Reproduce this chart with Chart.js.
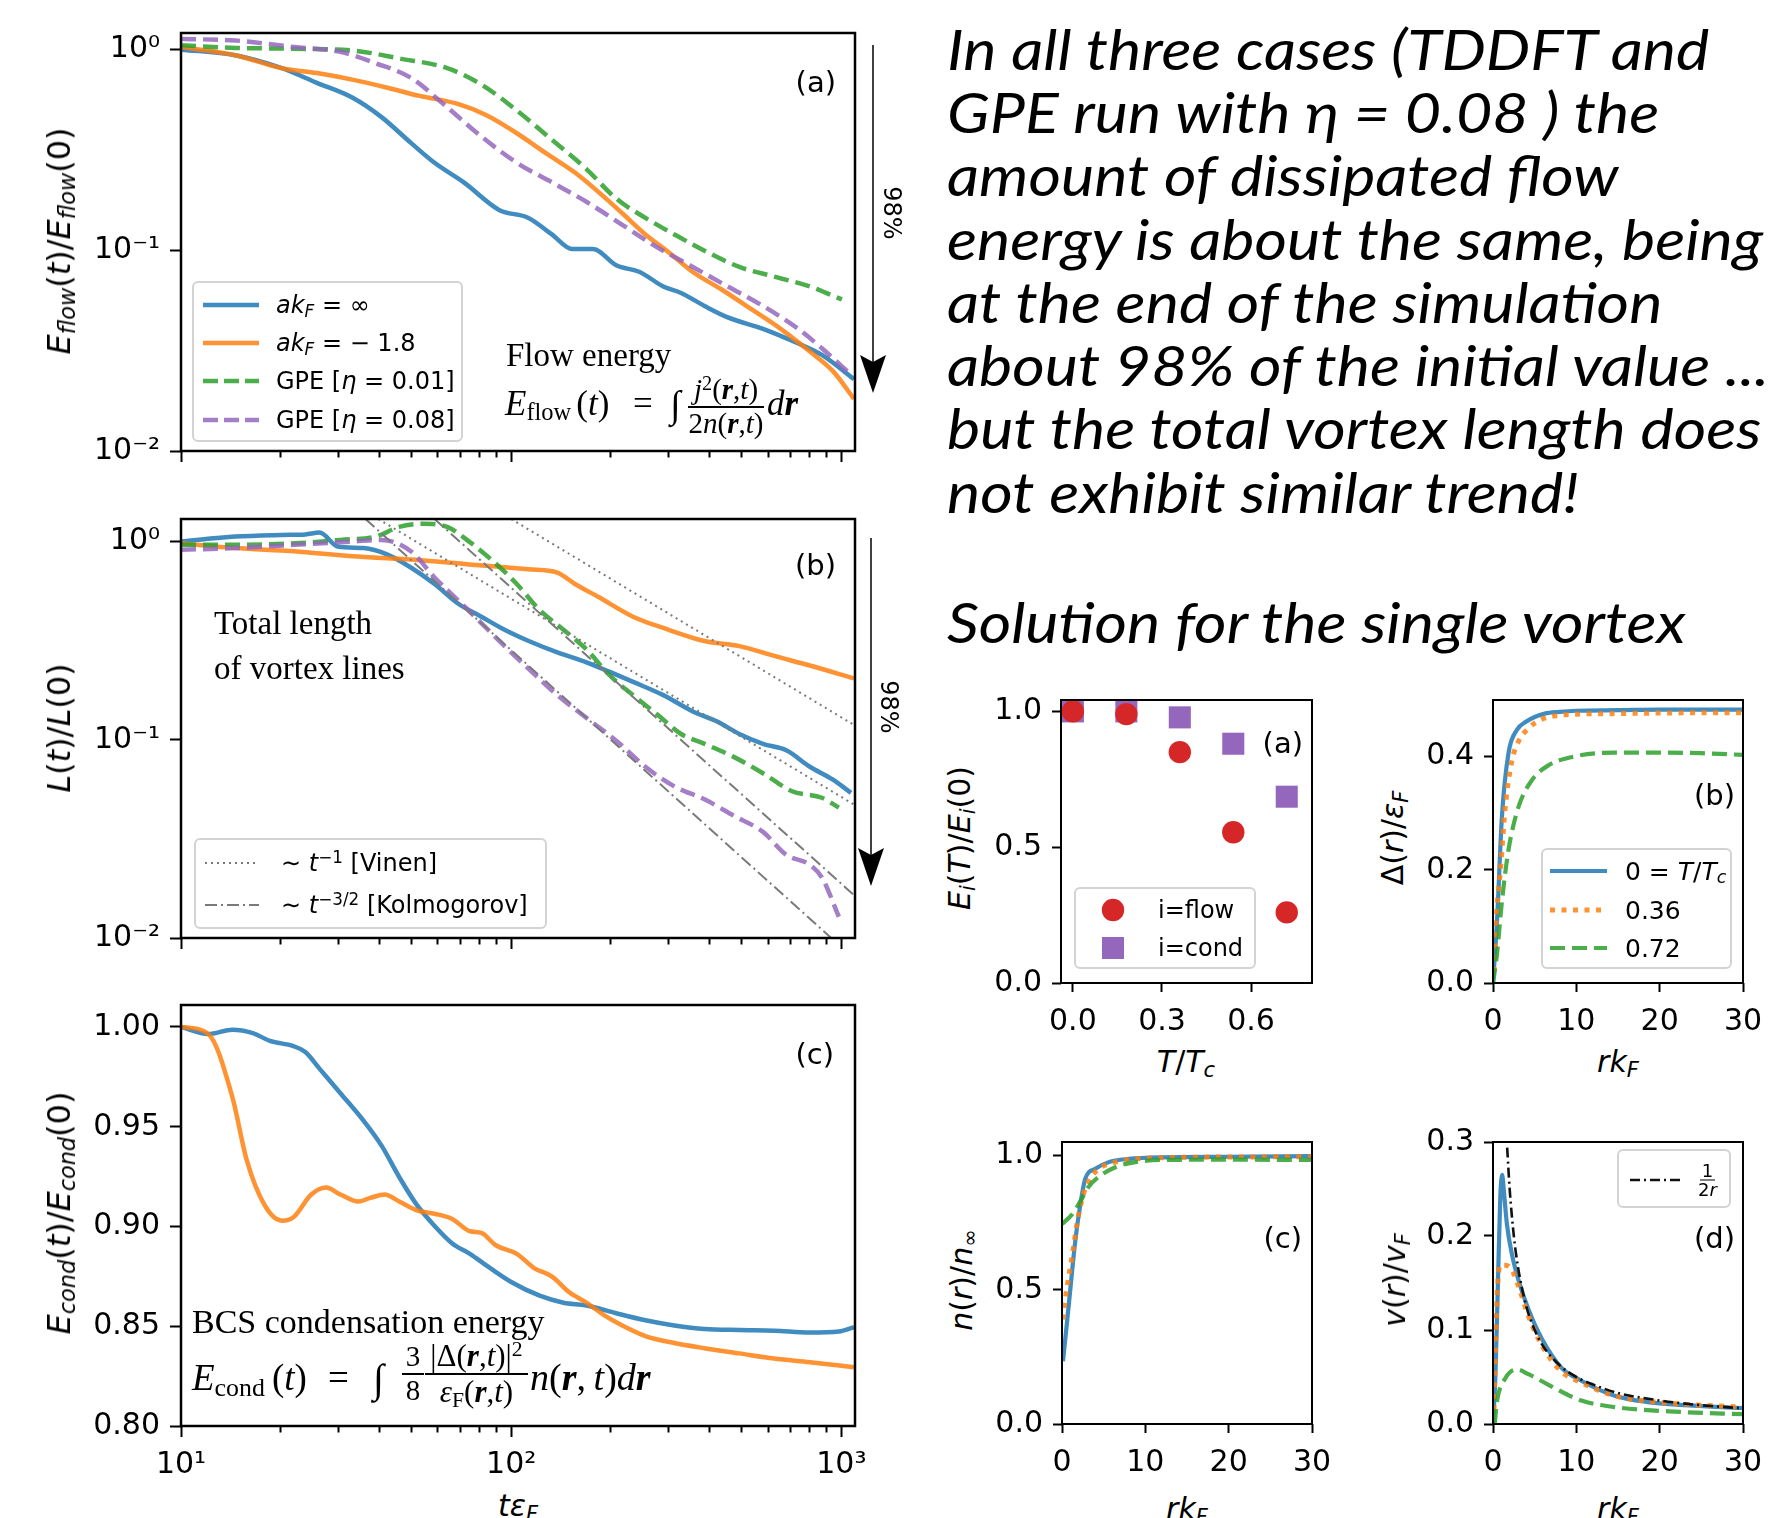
<!DOCTYPE html>
<html><head><meta charset="utf-8">
<script src="https://cdn.jsdelivr.net/npm/chart.js@4.4.1/dist/chart.umd.min.js"></script>
<style>
html,body{margin:0;padding:0;background:#fff;}
body{position:relative;width:1770px;height:1518px;overflow:hidden;}
canvas{position:absolute;}
.abs{position:absolute;white-space:nowrap;color:#000;}
.txt{font-family:'Lato';font-style:italic;font-size:56px;line-height:63.3px;transform:scaleX(1.12);transform-origin:0 0;}
.dj{font-family:'DejaVu Sans';line-height:1;}
.ser{font-family:'Liberation Serif';line-height:1;}
.rot{transform:translate(-50%,-50%) rotate(-90deg);}
.rotcw{transform:translate(-50%,-50%) rotate(90deg);}
sub{font-size:0.7em;vertical-align:-0.22em;line-height:0;}
sup{font-size:0.7em;vertical-align:0.45em;line-height:0;}
.legend{position:absolute;box-sizing:border-box;border:2px solid #d3d3d3;border-radius:6px;background:rgba(255,255,255,0.85);}
.row{position:absolute;white-space:nowrap;font-family:'DejaVu Sans';line-height:1;transform:translateY(-50%);}
.samp{position:absolute;}
</style>
</head><body>
<script>
// ---------------- DATA ----------------
// Panel (a): flow energy vs t*eps_F
const tA_inf = [10, 14.6, 20.2, 25.8, 33.0, 40.5, 49.8, 58.6, 71.9, 91.9, 112.8, 132.8, 153, 177, 208, 245, 289, 327, 385, 453, 579, 741, 873, 1092];
const eA_inf = [1.0, 0.938, 0.808, 0.683, 0.577, 0.461, 0.342, 0.273, 0.218, 0.159, 0.145, 0.120, 0.1015, 0.1015, 0.0842, 0.078, 0.066, 0.0613, 0.0528, 0.0463, 0.0406, 0.0343, 0.0301, 0.0228];
const tA_m18 = [10, 14.6, 20.2, 25.8, 33, 42.2, 52.8, 68.9, 84.5, 104, 127, 156, 184, 217, 255, 300, 355, 435, 534, 655, 803, 943, 1092];
const eA_m18 = [1.03, 0.938, 0.808, 0.764, 0.709, 0.646, 0.588, 0.536, 0.470, 0.383, 0.306, 0.244, 0.195, 0.153, 0.120, 0.0978, 0.078, 0.0636, 0.0509, 0.0406, 0.0313, 0.025, 0.0182];
const tA_g01 = [10, 14.6, 22, 33, 45.8, 64, 81.2, 104, 133, 169, 208, 255, 312, 385, 491, 626, 803, 1004];
const eA_g01 = [1.05, 1.02, 1.01, 0.99, 0.904, 0.808, 0.670, 0.497, 0.355, 0.254, 0.181, 0.145, 0.120, 0.0996, 0.0826, 0.074, 0.066, 0.0569];
const tA_g08 = [10, 14.6, 22, 30.4, 38.9, 49.8, 64, 81.2, 104, 133, 169, 217, 277, 355, 453, 579, 741, 873, 1070];
const eA_g08 = [1.13, 1.11, 1.03, 0.975, 0.855, 0.722, 0.516, 0.369, 0.273, 0.218, 0.1745, 0.134, 0.1035, 0.0826, 0.066, 0.0528, 0.0406, 0.0325, 0.024];

// Panel (b): total vortex length
const tB_inf = [10, 14.6, 20.2, 23.8, 26.3, 29.8, 35.8, 42.2, 49.8, 58.6, 69, 81.2, 95.5, 113, 138, 169, 199, 234, 289, 355, 419, 491, 579, 681, 803, 943, 1070];
const lB_inf = [1.0, 1.06, 1.08, 1.087, 1.11, 0.945, 0.927, 0.859, 0.738, 0.611, 0.487, 0.418, 0.359, 0.315, 0.276, 0.246, 0.22, 0.196, 0.168, 0.139, 0.124, 0.107, 0.0954, 0.0885, 0.0731, 0.0629, 0.054];
const tB_m18 = [10, 14.6, 22, 33, 49.8, 74.6, 113, 138, 156, 184, 234, 300, 385, 491, 626, 803, 1092];
const lB_m18 = [0.98, 0.927, 0.893, 0.843, 0.812, 0.767, 0.725, 0.698, 0.611, 0.525, 0.418, 0.359, 0.315, 0.297, 0.265, 0.237, 0.204];
const tB_g01 = [10, 14.6, 22, 30.4, 38.9, 45.8, 54.2, 64, 74.6, 88.1, 104, 122, 144, 169, 199, 234, 277, 327, 385, 472, 579, 709, 873, 983];
const lB_g01 = [0.963, 0.963, 0.98, 1.02, 1.06, 1.186, 1.23, 1.186, 1.0, 0.797, 0.611, 0.451, 0.359, 0.286, 0.211, 0.168, 0.134, 0.107, 0.0954, 0.082, 0.0678, 0.055, 0.051, 0.0455];
const tB_g08 = [10, 14.6, 22, 33, 40.5, 49.8, 58.6, 69, 81.2, 95.5, 113, 138, 169, 208, 255, 312, 385, 472, 579, 681, 803, 873, 983];
const lB_g08 = [0.91, 0.927, 0.963, 1.0, 1.02, 0.892, 0.659, 0.506, 0.388, 0.297, 0.228, 0.168, 0.129, 0.099, 0.0731, 0.0582, 0.0501, 0.0414, 0.0343, 0.0263, 0.0234, 0.0202, 0.0128];
const vinen1_t = [100, 1100], vinen1_v = [1.3, 0.118];
const vinen2_t = [39.6, 1100], vinen2_v = [1.3, 0.0468];
const kolm1_t = [58.6, 1100], kolm1_v = [1.3, 0.0163];
const kolm2_t = [36.2, 1100], kolm2_v = [1.3, 0.0078];

// Panel (c): condensation energy
const tC_inf = [10, 12.1, 14.3, 16.5, 18.6, 21.9, 23.8, 26.3, 30.4, 35.8, 40.5, 45.8, 51.8, 58.6, 66.3, 75, 84.7, 99.7, 122, 144, 169, 208, 255, 312, 385, 491, 626, 803, 983, 1092];
const cC_inf = [1.0, 0.9965, 0.9986, 0.9969, 0.993, 0.9904, 0.9874, 0.979, 0.9668, 0.9528, 0.9405, 0.9248, 0.9108, 0.9003, 0.8915, 0.8863, 0.8801, 0.8723, 0.8653, 0.8618, 0.8604, 0.8565, 0.853, 0.8504, 0.8486, 0.8481, 0.8478, 0.8469, 0.8474, 0.8495];
const tC_m18 = [10, 12.1, 14.3, 15.8, 17.9, 20.2, 21.9, 24.8, 27.5, 30.4, 34.4, 37.4, 41.4, 45.8, 51.8, 58.6, 66.3, 75, 81.2, 89.8, 104, 117, 133, 150, 169, 191, 217, 255, 312, 385, 491, 626, 803, 1092];
const cC_m18 = [1.0, 0.9965, 0.965, 0.9335, 0.9108, 0.9029, 0.9046, 0.916, 0.9195, 0.916, 0.9125, 0.9143, 0.916, 0.9125, 0.9081, 0.9064, 0.9038, 0.8976, 0.8968, 0.8906, 0.8863, 0.8793, 0.8749, 0.867, 0.8618, 0.8556, 0.8504, 0.8451, 0.8416, 0.839, 0.8364, 0.8338, 0.832, 0.8294];

// Small (a): energies vs temperature
const T_over_Tc = [0.0, 0.18, 0.36, 0.54, 0.72];
const E_flow_T = [1.0, 0.99, 0.85, 0.555, 0.26];
const E_cond_T = [1.0, 1.0, 0.978, 0.881, 0.686];
// Small (b): gap profile
const rB_T0 = [0, 0.48, 1.07, 1.87, 2.86, 4.0, 5.0, 6.2, 8, 10, 15, 20, 30];
const gB_T0 = [0, 0.109, 0.294, 0.407, 0.447, 0.462, 0.47, 0.476, 0.479, 0.481, 0.482, 0.483, 0.483];
const rB_T36 = [0.1, 0.48, 0.87, 1.47, 2.26, 3.06, 4.25, 5.84, 7.4, 10, 15, 20, 30];
const gB_T36 = [0.02, 0.132, 0.196, 0.311, 0.392, 0.427, 0.45, 0.466, 0.472, 0.475, 0.476, 0.477, 0.4775];
const rB_T72 = [0, 0.48, 1.07, 1.87, 3.06, 4.65, 6.6, 10, 14.6, 20, 25, 30];
const gB_T72 = [0, 0.051, 0.144, 0.236, 0.311, 0.358, 0.384, 0.401, 0.407, 0.407, 0.406, 0.403];
// Small (c): density profile
const rC_T0 = [0.12, 0.8, 1.6, 2.2, 2.8, 4, 5.6, 8, 12, 20, 30];
const nC_T0 = [0.234, 0.44, 0.684, 0.818, 0.915, 0.951, 0.976, 0.988, 0.994, 0.996, 0.998];
const rC_T36 = [0.1, 0.4, 1.2, 2, 2.8, 4, 6.4, 10, 20, 30];
const nC_T36 = [0.39, 0.465, 0.623, 0.781, 0.878, 0.94, 0.976, 0.99, 0.995, 0.996];
const rC_T72 = [0, 1.2, 2.2, 3.2, 4.4, 6.4, 8.8, 12, 20, 30];
const nC_T72 = [0.745, 0.781, 0.83, 0.884, 0.921, 0.957, 0.976, 0.984, 0.985, 0.984];
// Small (d): velocity profile
const rD_T0 = [0, 0.28, 0.6, 0.87, 1.1, 1.31, 1.67, 2.26, 3.06, 4.25, 5.84, 8.2, 10.6, 14.6, 18.55, 24, 30];
const vD_T0 = [0, 0.049, 0.153, 0.24, 0.265, 0.247, 0.2125, 0.181, 0.153, 0.122, 0.091, 0.06, 0.046, 0.030, 0.0233, 0.0195, 0.017];
const rD_T36 = [0.12, 0.36, 0.6, 0.87, 1.47, 2.26, 3.06, 4.25, 5.84, 8.2, 10.6, 14.6, 20, 30];
const vD_T36 = [0.0146, 0.101, 0.153, 0.169, 0.169, 0.164, 0.1465, 0.115, 0.084, 0.056, 0.044, 0.030, 0.023, 0.018];
const rD_T72 = [0.2, 0.5, 1.5, 2.86, 4.25, 6.6, 10.6, 14.6, 22.5, 30];
const vD_T72 = [0, 0.025, 0.049, 0.058, 0.053, 0.042, 0.025, 0.018, 0.0128, 0.0104];
const rD_ref = [1.7, 2.0, 2.5, 3.0, 4.0, 5.0, 6.0, 8.0, 10, 12, 15, 20, 25, 30];
const vD_ref = [0.294, 0.25, 0.2, 0.167, 0.125, 0.1, 0.083, 0.0625, 0.05, 0.042, 0.033, 0.025, 0.02, 0.0167];

// Ticks
const X_TICKS_LOG = [10,20,30,40,50,60,70,80,90,100,200,300,400,500,600,700,800,900,1000];
const X_LOG_LABELS = {10:'10¹', 100:'10²', 1000:'10³'};
const Y_TICKS_LOG = [0.01, 0.1, 1];
const Y_LOG_LABELS = {0.01:'10⁻²', 0.1:'10⁻¹', 1:'10⁰'};
const Y_TICKS_C = [0.80, 0.85, 0.90, 0.95, 1.00];
const X_TICKS_T = [0.0, 0.3, 0.6];
const Y_TICKS_HALF = [0.0, 0.5, 1.0];
const Y_TICKS_GAP = [0.0, 0.2, 0.4];
const Y_TICKS_V = [0.0, 0.1, 0.2, 0.3];
const X_TICKS_R = [0, 10, 20, 30];

// ---------------- STYLE ----------------
const BLUE='rgba(31,119,180,0.85)', ORANGE='rgba(255,127,14,0.85)', GREEN='rgba(44,160,44,0.85)', PURPLE='rgba(148,103,189,0.85)';
const RED='#d62728', PURP='#9467bd', GRAY='#7a7a7a';

const framePlugin = {
  id: 'frame',
  afterDraw(chart, args, opts) {
    const {ctx, chartArea: a} = chart;
    ctx.save(); ctx.strokeStyle = '#000'; ctx.lineWidth = opts.width || 2;
    ctx.strokeRect(a.left, a.top, a.right - a.left, a.bottom - a.top);
    ctx.restore();
  }
};

function mkCanvas(rect, m) {
  const c = document.createElement('canvas');
  const W = rect.w + m.l + m.r, H = rect.h + m.t + m.b;
  c.width = W; c.height = H;
  c.style.left = (rect.x - m.l) + 'px'; c.style.top = (rect.y - m.t) + 'px';
  c.style.width = W + 'px'; c.style.height = H + 'px';
  document.body.appendChild(c);
  return c;
}
function pts(xs, ys) { return xs.map((x, i) => ({x, y: ys[i]})); }
function lineDS(label, xs, ys, color, width, dash, order) {
  return { label, data: pts(xs, ys), borderColor: color, borderWidth: width, borderDash: dash || [],
    pointRadius: 0, fill: false, cubicInterpolationMode: 'monotone', borderCapStyle: 'butt',
    borderJoinStyle: 'round', order: order || 0 };
}
function axis(o) {
  return {
    type: o.type, min: o.min, max: o.max, position: o.pos,
    afterBuildTicks: s => { s.ticks = o.ticks.map(v => ({value: v})); },
    afterFit: s => { if (o.pos === 'left') s.width = o.size; else s.height = o.size; },
    ticks: { display: o.showLabels !== false, autoSkip: false, maxRotation: 0, minRotation: 0, padding: o.pad,
      color: '#000', font: {family: 'DejaVu Sans', size: o.fs}, callback: o.label },
    grid: { drawOnChartArea: false, drawTicks: true, tickLength: o.tl, tickWidth: o.tw, tickColor: '#000',
      color: '#000', tickBorderDash: o.tdash },
    border: { display: false }
  };
}
function makeChart(rect, m, datasets, xAx, yAx, fw) {
  const c = mkCanvas(rect, m);
  return new Chart(c, {
    type: 'line',
    data: { datasets },
    options: {
      responsive: false, animation: false, events: [],
      layout: { padding: { top: m.t, right: m.r, left: 0, bottom: 0 } },
      plugins: { legend: {display: false}, tooltip: {enabled: false}, frame: {width: fw} },
      scales: { x: xAx, y: yAx }
    },
    plugins: [framePlugin]
  });
}
const isMajorX = v => X_LOG_LABELS[v] !== undefined;
function bigX(showLabels, size) {
  return axis({type: 'logarithmic', min: 10, max: 1100, pos: 'bottom', ticks: X_TICKS_LOG, size: size,
    showLabels: showLabels, pad: 10, fs: 30, tl: 11, tw: 2,
    label: v => X_LOG_LABELS[v] || '',
    tdash: ctx => (ctx.tick && isMajorX(ctx.tick.value)) ? [] : [6.5, 40]});
}
const LW = 4.5, DASH = [15, 7];

// Panel A
makeChart({x:181, y:27, w:674, h:428}, {l:181, t:22, r:35, b:24}, [
  lineDS('inf', tA_inf, eA_inf, BLUE, LW, [], 4),
  lineDS('m18', tA_m18, eA_m18, ORANGE, LW, [], 3),
  lineDS('g01', tA_g01, eA_g01, GREEN, LW, DASH, 2),
  lineDS('g08', tA_g08, eA_g08, PURPLE, LW, DASH, 1)
], bigX(false, 24), axis({type:'logarithmic', min:0.01, max:1.21, pos:'left', ticks:Y_TICKS_LOG, size:181,
  pad:10, fs:30, tl:11, tw:2, label: v => Y_LOG_LABELS[v] || ''}), 2.5);

// Panel B
makeChart({x:181, y:513, w:674, h:429}, {l:181, t:22, r:35, b:24}, [
  lineDS('inf', tB_inf, lB_inf, BLUE, LW, [], 6),
  lineDS('m18', tB_m18, lB_m18, ORANGE, LW, [], 5),
  lineDS('g01', tB_g01, lB_g01, GREEN, LW, DASH, 4),
  lineDS('g08', tB_g08, lB_g08, PURPLE, LW, DASH, 3),
  lineDS('vinen1', vinen1_t, vinen1_v, GRAY, 2, [2, 4], 1),
  lineDS('vinen2', vinen2_t, vinen2_v, GRAY, 2, [2, 4], 1),
  lineDS('kolm1', kolm1_t, kolm1_v, GRAY, 2, [12, 4, 2, 4], 1),
  lineDS('kolm2', kolm2_t, kolm2_v, GRAY, 2, [12, 4, 2, 4], 1)
], bigX(false, 24), axis({type:'logarithmic', min:0.01, max:1.3, pos:'left', ticks:Y_TICKS_LOG, size:181,
  pad:10, fs:30, tl:11, tw:2, label: v => Y_LOG_LABELS[v] || ''}), 2.5);

// Panel C
makeChart({x:181, y:999, w:674, h:427}, {l:181, t:22, r:35, b:62}, [
  lineDS('inf', tC_inf, cC_inf, BLUE, LW, [], 2),
  lineDS('m18', tC_m18, cC_m18, ORANGE, LW, [], 1)
], bigX(true, 62), axis({type:'linear', min:0.80, max:1.011, pos:'left', ticks:Y_TICKS_C, size:181,
  pad:10, fs:30, tl:11, tw:2, label: v => v.toFixed(2)}), 2.5);

// Small panels
const SM = {l:80, t:22, r:35, b:56};
function smX(min, max, ticks, lab) {
  return axis({type:'linear', min, max, pos:'bottom', ticks, size:56, pad:12, fs:30, tl:9, tw:2, label: lab});
}
function smY(min, max, ticks) {
  return axis({type:'linear', min, max, pos:'left', ticks, size:80, pad:10, fs:30, tl:9, tw:2, label: v => v.toFixed(1)});
}
const SLW = 4.2, SDASH = [15, 7], SDOT = [5, 6.5];

makeChart({x:1061, y:694, w:251, h:289}, SM, [
  { label:'flow', data: pts(T_over_Tc, E_flow_T), showLine:false, pointStyle:'circle', pointRadius:11.2,
    pointBackgroundColor:RED, pointBorderWidth:0, borderColor:RED, order:1 },
  { label:'cond', data: pts(T_over_Tc, E_cond_T), showLine:false, pointStyle:'rect', pointRadius:15.6,
    pointBackgroundColor:PURP, pointBorderWidth:0, borderColor:PURP, order:2 }
], smX(-0.04, 0.805, X_TICKS_T, v => v.toFixed(1)), smY(0, 1.042, Y_TICKS_HALF), 2);

makeChart({x:1493, y:694, w:250, h:289}, SM, [
  lineDS('T0', rB_T0, gB_T0, BLUE, SLW, [], 3),
  lineDS('T36', rB_T36, gB_T36, ORANGE, SLW + 0.8, SDOT, 2),
  lineDS('T72', rB_T72, gB_T72, GREEN, SLW, SDASH, 1)
], smX(0, 30, X_TICKS_R, v => String(v)), smY(0, 0.50, Y_TICKS_GAP), 2);

makeChart({x:1062, y:1136, w:250, h:288}, SM, [
  lineDS('T0', rC_T0, nC_T0, BLUE, SLW, [], 3),
  lineDS('T36', rC_T36, nC_T36, ORANGE, SLW + 0.8, SDOT, 2),
  lineDS('T72', rC_T72, nC_T72, GREEN, SLW, SDASH, 1)
], smX(0, 30, X_TICKS_R, v => String(v)), smY(0, 1.051, Y_TICKS_HALF), 2);

makeChart({x:1493, y:1136, w:250, h:288}, SM, [
  lineDS('T0', rD_T0, vD_T0, BLUE, SLW, [], 4),
  lineDS('T36', rD_T36, vD_T36, ORANGE, SLW + 0.8, SDOT, 3),
  lineDS('T72', rD_T72, vD_T72, GREEN, SLW, SDASH, 2),
  lineDS('ref', rD_ref, vD_ref, '#111', 2.6, [10, 4, 2, 4], 1)
], smX(0, 30, X_TICKS_R, v => String(v)), smY(0, 0.3, Y_TICKS_V), 2);

// ---------------- TEXT / ANNOTATIONS ----------------
function add(html, style, cls) {
  const d = document.createElement('div');
  d.className = 'abs ' + (cls || '');
  d.style.cssText = style;
  d.innerHTML = html;
  document.body.appendChild(d);
  return d;
}
function svgLine(w, color, lw, dash) {
  return `<svg width="${w}" height="12" style="display:block"><line x1="0" y1="6" x2="${w}" y2="6" stroke="${color}" stroke-width="${lw}" stroke-dasharray="${(dash||[]).join(' ')}" stroke-linecap="butt"/></svg>`;
}
function legend(box, rows) {
  let html = '';
  rows.forEach(r => {
    const sx = r.sx - box.x, ty = r.y - box.y;
    html += `<div class="samp" style="left:${sx}px;top:${ty - 6}px">${r.sample}</div>`;
    html += `<div class="row" style="left:${r.tx - box.x}px;top:${ty}px;font-size:${r.fs}px">${r.html}</div>`;
  });
  const d = add(html, `left:${box.x}px;top:${box.y}px;width:${box.w}px;height:${box.h}px;`, '');
  d.className = 'legend';
}

// Right-hand text block
add(`In all three cases (TDDFT and<br>GPE run with η = 0.08 ) the<br>amount of dissipated flow<br>energy is about the same, being<br>at the end of the simulation<br>about 98% of the initial value ...<br>but the total vortex length does<br>not exhibit similar trend!`,
  'left:947px;top:16.7px;', 'txt');
add('Solution for the single vortex', 'left:947px;top:590px;', 'txt');

// Panel labels
function plabel(t, x, y, fs) { add(t, `left:${x}px;top:${y}px;font-size:${fs}px;transform:translate(-100%,-50%);`, 'dj'); }
plabel('(a)', 836, 82, 29); plabel('(b)', 836, 565, 29); plabel('(c)', 834, 1054, 29);
plabel('(a)', 1303, 743, 29); plabel('(b)', 1735, 795, 29); plabel('(c)', 1302, 1238, 29); plabel('(d)', 1735, 1238, 29);

// Y axis titles
function ylab(html, x, y, fs) { add(html, `left:${x}px;top:${y}px;font-size:${fs}px;`, 'dj rot'); }
ylab('<i>E<sub>flow</sub></i>(<i>t</i>)/<i>E<sub>flow</sub></i>(0)', 59, 241, 32);
ylab('<i>L</i>(<i>t</i>)/<i>L</i>(0)', 59, 728, 32);
ylab('<i>E<sub>cond</sub></i>(<i>t</i>)/<i>E<sub>cond</sub></i>(0)', 59, 1213, 32);
ylab('<i>E<sub>i</sub></i>(<i>T</i>)/<i>E<sub>i</sub></i>(0)', 960, 838, 30);
ylab('Δ(<i>r</i>)/<i>ε<sub>F</sub></i>', 1393, 838, 30);
ylab('<i>n</i>(<i>r</i>)/<i>n</i><sub>∞</sub>', 962, 1280, 30);
ylab('<i>v</i>(<i>r</i>)/<i>v<sub>F</sub></i>', 1395, 1280, 30);

// X axis titles (by baseline)
function xlab(html, x, base, fs) { add(html, `left:${x}px;top:${base - 0.846*fs}px;font-size:${fs}px;transform:translateX(-50%);`, 'dj'); }
xlab('<i>tε<sub>F</sub></i>', 518, 1516, 30);
xlab('<i>T</i>/<i>T<sub>c</sub></i>', 1186, 1072, 30);
xlab('<i>rk<sub>F</sub></i>', 1618, 1072, 30);
xlab('<i>rk<sub>F</sub></i>', 1187, 1519, 30);
xlab('<i>rk<sub>F</sub></i>', 1618, 1519, 30);

// Serif annotations and formulas
function ser(html, x, base, fs) { add(html, `left:${x}px;top:${base - 0.8375*fs}px;font-size:${fs}px;`, 'ser'); }
function mfrac(num, den, x, w, bar, fs) {
  add(num, `left:${x}px;width:${w}px;text-align:center;top:${bar - fs - 3}px;font-size:${fs}px;`, 'ser');
  add(den, `left:${x}px;width:${w}px;text-align:center;top:${bar + 2}px;font-size:${fs}px;`, 'ser');
  add('', `left:${x}px;width:${w}px;top:${bar - 0.75}px;height:1.5px;background:#000;`);
}
ser('Flow energy', 506, 367, 33);
ser('Total length', 214, 635, 33);
ser('of vortex lines', 214, 680, 33);
ser('BCS condensation energy', 192, 1333, 34);

ser('<i>E</i><sub>flow</sub><span style="margin-left:5px">(<i>t</i>)</span>', 505, 415, 35);
ser('=', 633, 415, 35);
ser('∫', 670, 417, 38);
mfrac('<i>j</i><sup>2</sup>(<b><i>r</i></b>,<i>t</i>)', '2<i>n</i>(<b><i>r</i></b>,<i>t</i>)', 688, 76, 407, 29);
ser('<i>d</i><b><i>r</i></b>', 767, 415, 35);

ser('<i>E</i><sub>cond</sub><span style="margin-left:7px">(<i>t</i>)</span>', 192, 1390, 37);
ser('=', 328, 1390, 37);
ser('∫', 373, 1392, 40);
mfrac('3', '8', 402, 22, 1374, 29);
mfrac('|Δ(<b><i>r</i></b>,<i>t</i>)|<sup>2</sup>', '<i>ε</i><sub>F</sub>(<b><i>r</i></b>,<i>t</i>)', 425, 103, 1374, 31);
ser('<i>n</i>(<b><i>r</i></b>,&thinsp;<i>t</i>)<i>d</i><b><i>r</i></b>', 530, 1390, 38);

// Arrows and 98% labels
add(`<svg width="1770" height="1518" style="position:absolute;left:0;top:0">
<line x1="873" y1="45" x2="873" y2="362" stroke="#111" stroke-width="1.6"/>
<polygon points="860,355 873,393 886,355 873,362" fill="#000"/>
<line x1="871" y1="538" x2="871" y2="855" stroke="#111" stroke-width="1.6"/>
<polygon points="858,848 871,886 884,848 871,855" fill="#000"/>
</svg>`, 'left:0;top:0;');
add('98%', 'left:892px;top:213px;font-size:24px;', 'dj rotcw');
add('98%', 'left:889px;top:707px;font-size:24px;', 'dj rotcw');

// Legends
legend({x:192, y:281, w:271, h:161}, [
  {sx:201, y:302.5, tx:274, fs:24, sample: svgLine(56, BLUE, 4.5), html:'<i>ak<sub>F</sub></i> = ∞'},
  {sx:201, y:341, tx:274, fs:24, sample: svgLine(56, ORANGE, 4.5), html:'<i>ak<sub>F</sub></i> = − 1.8'},
  {sx:201, y:379, tx:274, fs:24, sample: svgLine(56, GREEN, 4.5, [15,6]), html:'GPE [<i>η</i> = 0.01]'},
  {sx:201, y:417.6, tx:274, fs:24, sample: svgLine(56, PURPLE, 4.5, [15,6]), html:'GPE [<i>η</i> = 0.08]'}
]);
legend({x:194, y:838, w:353, h:91}, [
  {sx:203, y:861, tx:279, fs:24, sample: svgLine(54, GRAY, 2, [2,4]), html:'∼ <i>t</i><sup>−1</sup> [Vinen]'},
  {sx:203, y:903, tx:279, fs:24, sample: svgLine(54, GRAY, 2, [12,4,2,4]), html:'∼ <i>t</i><sup>−3/2</sup> [Kolmogorov]'}
]);
legend({x:1074, y:887, w:182, h:82}, [
  {sx:1099, y:908.3, tx:1156, fs:24, sample:`<svg width="24" height="24" style="display:block;margin-top:-6px"><circle cx="12" cy="12" r="11.2" fill="${RED}"/></svg>`, html:'i=flow'},
  {sx:1099, y:946, tx:1156, fs:24, sample:`<svg width="24" height="24" style="display:block;margin-top:-6px"><rect x="1" y="1" width="22" height="22" fill="${PURP}"/></svg>`, html:'i=cond'}
]);
legend({x:1541, y:848, w:191, h:121}, [
  {sx:1548, y:869, tx:1623, fs:25, sample: svgLine(57, BLUE, 4.2), html:'0 = <i>T</i>/<i>T<sub>c</sub></i>'},
  {sx:1548, y:907.7, tx:1623, fs:25, sample: svgLine(57, ORANGE, 5, [5,6.5]), html:'0.36'},
  {sx:1548, y:945.7, tx:1623, fs:25, sample: svgLine(57, GREEN, 4.2, [15,7]), html:'0.72'}
]);
legend({x:1617, y:1149, w:114, h:59}, [
  {sx:1628, y:1178, tx:1694, fs:18, sample: svgLine(51, '#111', 2.6, [10,4,2,4]),
   html:'<span style="display:inline-flex;flex-direction:column;align-items:center;line-height:1"><span style="border-bottom:1.3px solid #000;padding:0 2px">1</span><span style="padding:0 2px">2<i>r</i></span></span>'}
]);
</script>
</body></html>
